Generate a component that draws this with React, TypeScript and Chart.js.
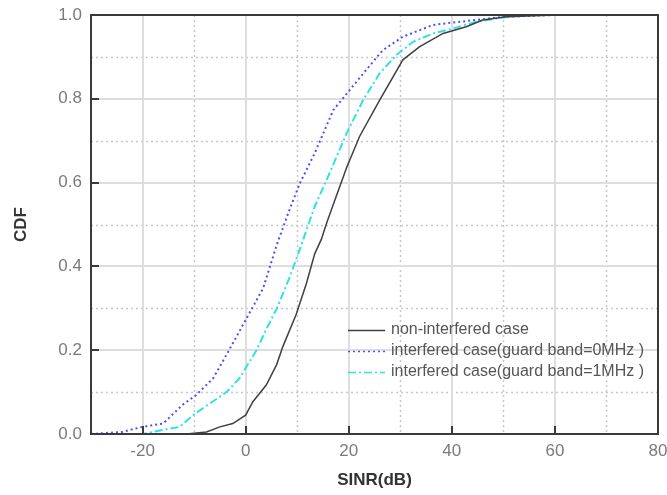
import React, { useEffect, useRef } from "react";
import { Chart, registerables } from "chart.js";

Chart.register(...registerables);

const seriesLabels = [
  "non-interfered case",
  "interfered case(guard band=0MHz )",
  "interfered case(guard band=1MHz )",
];

const nonX = [-30, -11.5, -7.6, -5, -2.5, 0, 1.4, 4, 6, 7.2, 9.8, 11.8, 13.4, 14.7, 15.7, 17.3, 19.6, 22.1, 26, 30.5, 33.7, 38.3, 42.8, 46, 50.5, 60, 80];
const nonY = [0, 0, 0.005, 0.017, 0.025, 0.045, 0.077, 0.117, 0.165, 0.208, 0.285, 0.36, 0.43, 0.465, 0.503, 0.558, 0.636, 0.71, 0.797, 0.893, 0.924, 0.956, 0.972, 0.988, 0.996, 1, 1];

const gb0X = [-30, -24, -20, -16, -12.2, -9.6, -6.3, -3.4, 0, 3.4, 6, 8.5, 10.5, 13.4, 17, 18.8, 23.4, 26.6, 30.5, 36.3, 40.2, 46, 50.5, 60, 80];
const gb0Y = [0, 0.005, 0.017, 0.025, 0.07, 0.093, 0.133, 0.196, 0.272, 0.348, 0.45, 0.535, 0.598, 0.67, 0.773, 0.8, 0.869, 0.916, 0.948, 0.976, 0.982, 0.99, 0.996, 1, 1];

const gb1X = [-30, -20, -16, -12.8, -10.2, -7.3, -3.7, -1.2, 2.1, 4, 6, 8.5, 10.5, 11.8, 13.4, 15.7, 17.8, 19.6, 22.8, 26, 29.3, 32.5, 36.4, 40.3, 44.8, 50, 56, 80];
const gb1Y = [0, 0, 0.01, 0.017, 0.045, 0.07, 0.1, 0.133, 0.2, 0.25, 0.298, 0.373, 0.44, 0.487, 0.543, 0.606, 0.666, 0.718, 0.797, 0.861, 0.905, 0.936, 0.956, 0.968, 0.984, 0.994, 1, 1];

const xMajorTicks = [-20, 0, 20, 40, 60, 80];
const xMinorTicks = [-10, 10, 30, 50, 70];
const yMajorTicks = [0, 0.2, 0.4, 0.6, 0.8, 1.0];
const yMinorTicks = [0.1, 0.3, 0.5, 0.7, 0.9];

const FONT = "'Liberation Sans', Arial, sans-serif";

const toPoints = (xs: number[], ys: number[]) => xs.map((x, i) => ({ x, y: ys[i] }));

const framePlugin = {
  id: "frameGrid",
  beforeDatasetsDraw(chart: any) {
    const { ctx, chartArea: a, scales } = chart;
    const xs = scales.x, ys = scales.y;
    ctx.save();
    ctx.strokeStyle = "#c8c8c8";
    ctx.lineWidth = 1.5;
    ctx.setLineDash([2, 3]);
    xMinorTicks.forEach((v) => {
      const px = Math.round(xs.getPixelForValue(v)) + 0.5;
      ctx.beginPath(); ctx.moveTo(px, a.top); ctx.lineTo(px, a.bottom); ctx.stroke();
    });
    yMinorTicks.forEach((v) => {
      const py = Math.round(ys.getPixelForValue(v)) + 0.5;
      ctx.beginPath(); ctx.moveTo(a.left, py); ctx.lineTo(a.right, py); ctx.stroke();
    });
    ctx.setLineDash([]);
    ctx.strokeStyle = "#dedede";
    ctx.lineWidth = 2;
    xMajorTicks.forEach((v) => {
      const px = Math.round(xs.getPixelForValue(v));
      ctx.beginPath(); ctx.moveTo(px, a.top); ctx.lineTo(px, a.bottom); ctx.stroke();
    });
    yMajorTicks.forEach((v) => {
      const py = Math.round(ys.getPixelForValue(v));
      ctx.beginPath(); ctx.moveTo(a.left, py); ctx.lineTo(a.right, py); ctx.stroke();
    });
    ctx.restore();
  },
  afterDatasetsDraw(chart: any) {
    const { ctx, chartArea: a, scales } = chart;
    const xs = scales.x, ys = scales.y;
    ctx.save();
    ctx.setLineDash([]);
    ctx.strokeStyle = "#3a3a3a";
    ctx.lineWidth = 2;
    ctx.strokeRect(a.left, a.top, a.right - a.left, a.bottom - a.top);
    xMajorTicks.forEach((v) => {
      if (v <= xs.min || v >= xs.max) return;
      const px = Math.round(xs.getPixelForValue(v));
      ctx.beginPath(); ctx.moveTo(px, a.bottom); ctx.lineTo(px, a.bottom - 8); ctx.stroke();
    });
    yMajorTicks.forEach((v) => {
      if (v <= ys.min || v >= ys.max) return;
      const py = Math.round(ys.getPixelForValue(v));
      ctx.beginPath(); ctx.moveTo(a.left, py); ctx.lineTo(a.left + 8, py); ctx.stroke();
    });
    const lx0 = a.left + 257;
    const lx1 = a.left + 294;
    const tx = a.left + 300;
    const rows = [a.top + 315, a.top + 336, a.top + 357];
    ctx.font = `16px ${FONT}`;
    ctx.textBaseline = "middle";
    ctx.textAlign = "left";
    chart.data.datasets.forEach((ds: any, i: number) => {
      const y = rows[i] + 0.5;
      ctx.strokeStyle = ds.borderColor;
      ctx.lineWidth = 1.5;
      ctx.setLineDash(ds.borderDash || []);
      ctx.beginPath(); ctx.moveTo(lx0, y); ctx.lineTo(lx1, y); ctx.stroke();
      ctx.setLineDash([]);
      ctx.fillStyle = "#555";
      ctx.fillText(ds.label, tx, rows[i]);
    });
    ctx.restore();
  },
};

export default function App() {
  const ref = useRef<HTMLCanvasElement | null>(null);
  useEffect(() => {
    if (!ref.current) return;
    const chart = new Chart(ref.current, {
      type: "line",
      data: {
        datasets: [
          {
            label: seriesLabels[0],
            data: toPoints(nonX, nonY),
            borderColor: "#404040",
            borderWidth: 1.5,
            pointRadius: 0,
            tension: 0,
          },
          {
            label: seriesLabels[1],
            data: toPoints(gb0X, gb0Y),
            borderColor: "#5050f0",
            borderWidth: 2,
            borderDash: [2, 3],
            pointRadius: 0,
            tension: 0,
          },
          {
            label: seriesLabels[2],
            data: toPoints(gb1X, gb1Y),
            borderColor: "#30e0e8",
            borderWidth: 2,
            borderDash: [8, 3, 2, 3],
            pointRadius: 0,
            tension: 0,
          },
        ],
      },
      options: {
        animation: false,
        responsive: false,
        devicePixelRatio: 1,
        layout: { padding: { top: 15, right: 9, left: 0, bottom: 0 } },
        plugins: { legend: { display: false }, tooltip: { enabled: false } },
        scales: {
          x: {
            type: "linear",
            min: -30,
            max: 80,
            grid: { display: false, drawTicks: false },
            border: { display: false },
            afterBuildTicks: (s: any) => {
              s.ticks = xMajorTicks.map((v) => ({ value: v }));
            },
            afterFit: (s: any) => {
              s.height = 61;
              s.paddingLeft = 0;
              s.paddingRight = 0;
              s.paddingTop = 0;
              s.paddingBottom = 0;
            },
            ticks: {
              padding: 7,
              color: "#7a7a7a",
              font: { family: FONT, size: 17 },
              maxRotation: 0,
              autoSkip: false,
            },
            title: {
              display: true,
              text: "SINR(dB)",
              color: "#333",
              font: { family: FONT, size: 17, weight: "bold" },
              padding: { top: 0, bottom: 4 },
            },
          },
          y: {
            type: "linear",
            min: 0,
            max: 1,
            grid: { display: false, drawTicks: false },
            border: { display: false },
            afterBuildTicks: (s: any) => {
              s.ticks = yMajorTicks.map((v) => ({ value: v }));
            },
            afterFit: (s: any) => {
              s.width = 91;
              s.paddingLeft = 0;
              s.paddingRight = 0;
              s.paddingTop = 0;
              s.paddingBottom = 0;
            },
            ticks: {
              padding: 9,
              color: "#7a7a7a",
              font: { family: FONT, size: 17 },
              callback: (v: any) => Number(v).toFixed(1),
            },
            title: {
              display: true,
              text: "CDF",
              color: "#333",
              font: { family: FONT, size: 17, weight: "bold" },
              padding: { top: 11, bottom: 0 },
            },
          },
        },
      },
      plugins: [framePlugin],
    });
    return () => chart.destroy();
  }, []);
  return (
    <div style={{ position: "absolute", left: 0, top: 0, width: 667, height: 495, background: "#fff" }}>
      <canvas ref={ref} width={667} height={495} />
    </div>
  );
}
